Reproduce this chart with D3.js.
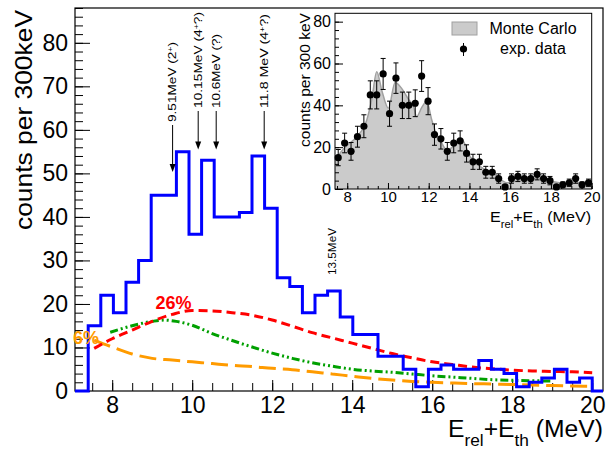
<!DOCTYPE html>
<html>
<head>
<meta charset="utf-8">
<script src="https://cdn.jsdelivr.net/npm/d3@7"></script>
<style>
  body { margin: 0; background: #fff; }
  svg { display: block; }
  text { font-family: "Liberation Sans", Arial, Helvetica, sans-serif; fill: #000; }
</style>
</head>
<body>
<svg id="chart" width="606" height="450"></svg>
<script>
// ---- data -------------------------------------------------------------
// measured spectrum, 40 bins between 7.4 and 20.0 MeV
const binLow = 7.4;
const binHigh = 20.0;
const counts = [15, 22, 18, 25, 30, 45, 45, 55, 36, 53, 40, 40, 41, 54, 42, 26, 24, 18, 22, 23,
                17, 13, 13, 8, 8, 5, 1, 5, 6, 5, 5, 7, 5, 4, 1, 2, 3, 5, 2, 3];

// background components (26 % red, green, 6 % orange)
const redEnergy = [7.55, 8.0, 8.5, 9.0, 9.5, 10.0, 10.5, 11.0, 11.5, 12.0, 12.5, 13.0, 13.5, 14.0,
                   14.5, 15.0, 15.5, 16.0, 16.5, 17.0, 17.5, 18.0, 18.5, 19.0, 19.5, 20.0];
const redCounts = [9.8, 12.0, 14.0, 16.0, 17.6, 18.5, 18.4, 18.0, 17.4, 16.3, 14.9, 13.4, 12.2, 11.0,
                   9.8, 8.6, 7.6, 6.7, 6.1, 5.5, 5.1, 4.8, 4.6, 4.5, 4.4, 4.2];
const greenEnergy = [7.95, 8.5, 9.0, 9.3, 9.6, 10.0, 10.5, 11.0, 11.5, 12.0, 12.5, 13.0, 13.5, 14.0,
                     14.5, 15.0, 15.5, 16.0, 16.5, 17.0, 17.5, 18.0, 18.5, 19.0];
const greenCounts = [13.5, 15.0, 16.0, 16.3, 16.0, 15.1, 13.2, 11.6, 10.1, 8.7, 7.5, 6.5, 5.7, 5.0,
                     4.6, 4.3, 3.9, 3.5, 3.2, 2.9, 2.6, 2.45, 2.35, 2.3];
const orangeEnergy = [7.55, 8.0, 8.5, 9.0, 9.5, 10.0, 10.5, 11.0, 11.5, 12.0, 12.5, 13.0, 13.5, 14.0,
                      14.5, 15.0, 15.5, 16.0, 16.5, 17.0, 17.5, 18.0, 18.5, 19.0, 19.5, 20.0];
const orangeCounts = [11.7, 10.1, 8.5, 7.5, 7.1, 6.7, 6.3, 5.9, 5.6, 5.2, 4.9, 4.4, 3.9, 3.4,
                      2.9, 2.5, 2.2, 2.0, 1.85, 1.7, 1.6, 1.5, 1.35, 1.25, 1.15, 1.1];

// Monte Carlo simulation shown in the inset
const mcEnergy = [7.4, 7.89, 8.47, 8.96, 9.2, 9.45, 9.7, 10.02, 10.35, 10.68, 11.0, 11.25, 11.41,
                  11.66, 11.9, 12.15, 12.31, 12.56, 12.89, 13.21, 13.63, 14.03, 14.53, 15.18,
                  15.84, 16.49, 17.47, 18.13, 18.79, 19.45, 20.0];
const mcCounts = [14, 20, 25, 33, 42.6, 56, 47, 38.6, 50.9, 48, 43, 39.4, 34.6,
                  39, 41.8, 33, 28, 23.4, 18.7, 20.2, 23.4, 15.5, 10.7, 7.5,
                  3, 4.3, 5.1, 3.5, 2.7, 3, 2.7];

// states marked with arrows
const stateEnergy = [9.51, 10.15, 10.6, 11.8];
const stateName = ["9.51MeV", "10.15MeV", "10.6MeV", "11.8 MeV"];
const stateSpin = ["(2", "(4", "(?)", "(4"];
const stateSup = ["+", "+", "", "+"];
const stateTail = [")", "?)", "", "?)"];

const mainXTicks = [8, 10, 12, 14, 16, 18, 20];
const mainYTicks = [0, 10, 20, 30, 40, 50, 60, 70, 80];
const insetXTicks = [8, 10, 12, 14, 16, 18, 20];
const insetYTicks = [0, 20, 40, 60, 80];

// ---- main frame --------------------------------------------------------
const svg = d3.select("#chart");
const F = { l: 75, r: 603, t: 8, b: 391 };
const x = d3.scaleLinear().domain([7.07, 20.27]).range([F.l, F.r]);
const y = d3.scaleLinear().domain([0, 88]).range([F.b, F.t]);

svg.append("defs").append("clipPath").attr("id", "plotClip")
  .append("rect").attr("x", F.l).attr("y", F.t).attr("width", F.r - F.l).attr("height", F.b - F.t);

// minor + major ticks, pointing into the frame
const gy = svg.append("g").attr("transform", `translate(${F.l},0)`);
gy.call(d3.axisLeft(y).tickValues(d3.range(0, 89, 2)).tickSize(-8).tickFormat(""));
gy.call(g => g.select(".domain").remove());
const gyMaj = svg.append("g").attr("transform", `translate(${F.l},0)`)
  .call(d3.axisLeft(y).tickValues(mainYTicks).tickSize(-15).tickPadding(7).tickFormat(d3.format("d")));
gyMaj.select(".domain").remove();
gyMaj.selectAll("text").attr("font-size", 23).attr("font-family", null);

const gx = svg.append("g").attr("transform", `translate(0,${F.b})`);
gx.call(d3.axisBottom(x).tickValues(d3.range(7.5, 20.01, 0.5)).tickSize(-8).tickFormat(""));
gx.call(g => g.select(".domain").remove());
const gxMaj = svg.append("g").attr("transform", `translate(0,${F.b})`)
  .call(d3.axisBottom(x).tickValues(mainXTicks).tickSize(-11).tickPadding(6).tickFormat(d3.format("d")));
gxMaj.select(".domain").remove();
gxMaj.selectAll("text").attr("font-size", 23).attr("font-family", null);
svg.selectAll(".tick line").attr("stroke", "#000").attr("stroke-width", 1);

// frame
svg.append("rect").attr("x", F.l).attr("y", F.t).attr("width", F.r - F.l).attr("height", F.b - F.t)
  .attr("fill", "none").attr("stroke", "#000").attr("stroke-width", 1.2);

// ---- background curves -------------------------------------------------
const plot = svg.append("g").attr("clip-path", "url(#plotClip)");
function curve(es, vs, color, dash) {
  const pts = es.map((e, i) => [e, vs[i]]);
  plot.append("path")
    .attr("d", d3.line().x(d => x(d[0])).y(d => y(d[1])).curve(d3.curveMonotoneX)(pts))
    .attr("fill", "none").attr("stroke", color).attr("stroke-width", 3)
    .attr("stroke-dasharray", dash);
}
curve(orangeEnergy, orangeCounts, "#ff9b00", "17,7");
curve(greenEnergy, greenCounts, "#00a000", "8,3,2,3,2,3");
curve(redEnergy, redCounts, "#ff0000", "9,5");

// ---- measured histogram ------------------------------------------------
const bw = (binHigh - binLow) / counts.length;
const histPts = [[x.domain()[0], 0], [binLow, 0]];
counts.forEach((c, i) => {
  histPts.push([binLow + i * bw, c], [binLow + (i + 1) * bw, c]);
});
histPts.push([binHigh, 0], [x.domain()[1], 0]);
svg.append("path")
  .attr("d", d3.line().x(d => x(d[0])).y(d => y(d[1])).curve(d3.curveLinear)(histPts))
  .attr("fill", "none").attr("stroke", "#0000ff").attr("stroke-width", 3)
  .attr("stroke-linejoin", "miter");

// ---- percentages -------------------------------------------------------
svg.append("text").attr("x", 173.5).attr("y", 309).attr("text-anchor", "middle")
  .attr("font-size", 18).attr("font-weight", "bold").style("fill", "#ff0000").text("26%");
svg.append("text").attr("x", 73).attr("y", 344)
  .attr("font-size", 18).attr("font-weight", "bold").style("fill", "#ff9b00").text("6%");

// ---- state arrows ------------------------------------------------------
const arrowTip = [50.3, 55.5, 55.5, 55.5];
const arrowStart = [122, 108, 108, 108];
const labelLen = [80, 96, 74, 94];
stateEnergy.forEach((e, i) => {
  const X = x(e);
  const tipY = y(arrowTip[i]);
  svg.append("line").attr("x1", X).attr("x2", X).attr("y1", arrowStart[i] + 3).attr("y2", tipY - 6)
    .attr("stroke", "#000").attr("stroke-width", 1);
  svg.append("path").attr("d", `M${X - 3},${tipY - 8} L${X + 3},${tipY - 8} L${X},${tipY} Z`).attr("fill", "#000");
  const t = svg.append("text")
    .attr("transform", `translate(${X},${arrowStart[i]}) rotate(-90)`)
    .attr("dy", "0.35em").attr("font-size", 11)
    .attr("textLength", labelLen[i]).attr("lengthAdjust", "spacingAndGlyphs");
  t.append("tspan").text(stateName[i] + " " + stateSpin[i]);
  if (stateSup[i]) t.append("tspan").attr("baseline-shift", "super").attr("font-size", 7).text(stateSup[i]);
  if (stateTail[i]) t.append("tspan").text(stateTail[i]);
});
svg.append("text").attr("transform", `translate(${x(13.5)},275) rotate(-90)`)
  .attr("dy", "0.35em").attr("font-size", 11)
  .attr("textLength", 47).attr("lengthAdjust", "spacingAndGlyphs").text("13.5MeV");

// ---- axis titles -------------------------------------------------------
svg.append("text").attr("transform", "translate(32,120) rotate(-90)").attr("text-anchor", "middle")
  .attr("font-size", 24).attr("textLength", 220).attr("lengthAdjust", "spacingAndGlyphs")
  .text("counts per 300keV");
function energyTitle(sel, size) {
  sel.append("tspan").text("E");
  sel.append("tspan").attr("baseline-shift", "sub").attr("font-size", size * 0.7).text("rel");
  sel.append("tspan").text("+E");
  sel.append("tspan").attr("baseline-shift", "sub").attr("font-size", size * 0.7).text("th");
  sel.append("tspan").text(" (MeV)");
}
energyTitle(svg.append("text").attr("x", 603).attr("y", 437).attr("text-anchor", "end")
  .attr("font-size", 23).attr("textLength", 155).attr("lengthAdjust", "spacingAndGlyphs"), 23);

// ---- inset -------------------------------------------------------------
const I = { l: 335, r: 591.7, t: 13.3, b: 189 };
const xi = d3.scaleLinear().domain([7.4, 20.0]).range([I.l, I.r]);
const yi = d3.scaleLinear().domain([0, 84]).range([I.b, I.t]);
const inset = svg.append("g");

const mcPts = mcEnergy.map((e, i) => [e, mcCounts[i]]);
inset.append("path")
  .attr("d", d3.area().x(d => xi(d[0])).y0(yi(0)).y1(d => yi(d[1])).curve(d3.curveMonotoneX)(mcPts))
  .attr("fill", "#cbcbcb");
inset.append("path")
  .attr("d", d3.line().x(d => xi(d[0])).y(d => yi(d[1])).curve(d3.curveMonotoneX)(mcPts))
  .attr("fill", "none").attr("stroke", "#a0a0a0").attr("stroke-width", 1.5);

const iyMin = inset.append("g").attr("transform", `translate(${I.l},0)`)
  .call(d3.axisLeft(yi).tickValues(d3.range(0, 84, 4)).tickSize(-4).tickFormat(""));
iyMin.select(".domain").remove();
const iyMaj = inset.append("g").attr("transform", `translate(${I.l},0)`)
  .call(d3.axisLeft(yi).tickValues(insetYTicks).tickSize(-8).tickPadding(4).tickFormat(d3.format("d")));
iyMaj.select(".domain").remove();
iyMaj.selectAll("text").attr("font-size", 16).attr("font-family", null);
const ixMin = inset.append("g").attr("transform", `translate(0,${I.b})`)
  .call(d3.axisBottom(xi).tickValues(d3.range(7.5, 20.01, 0.5)).tickSize(-3).tickFormat(""));
ixMin.select(".domain").remove();
const ixMaj = inset.append("g").attr("transform", `translate(0,${I.b})`)
  .call(d3.axisBottom(xi).tickValues(insetXTicks).tickSize(-6).tickPadding(2).tickFormat(d3.format("d")));
ixMaj.select(".domain").remove();
ixMaj.selectAll("text").attr("font-size", 15).attr("font-family", null);
inset.selectAll(".tick line").attr("stroke", "#000").attr("stroke-width", 1);

inset.append("rect").attr("x", I.l).attr("y", I.t).attr("width", I.r - I.l).attr("height", I.b - I.t)
  .attr("fill", "none").attr("stroke", "#000").attr("stroke-width", 1);

// data points with statistical errors
const pts = inset.append("g");
counts.forEach((c, i) => {
  const X = xi(binLow + (i + 0.5) * bw);
  const err = Math.sqrt(c);
  const y1 = yi(c + err), y2 = yi(Math.max(0, c - err));
  pts.append("line").attr("x1", X).attr("x2", X).attr("y1", y1).attr("y2", y2).attr("stroke", "#000").attr("stroke-width", 1);
  pts.append("line").attr("x1", X - 2.5).attr("x2", X + 2.5).attr("y1", y1).attr("y2", y1).attr("stroke", "#000");
  pts.append("line").attr("x1", X - 2.5).attr("x2", X + 2.5).attr("y1", y2).attr("y2", y2).attr("stroke", "#000");
  pts.append("circle").attr("cx", X).attr("cy", yi(c)).attr("r", 3.6).attr("fill", "#000");
});

inset.append("text").attr("transform", "translate(310,80) rotate(-90)").attr("text-anchor", "middle")
  .attr("font-size", 15).attr("textLength", 134).attr("lengthAdjust", "spacingAndGlyphs")
  .text("counts per 300 keV");
energyTitle(inset.append("text").attr("x", 591).attr("y", 222).attr("text-anchor", "end")
  .attr("font-size", 14.5).attr("textLength", 101).attr("lengthAdjust", "spacingAndGlyphs"), 14.5);

// legend
inset.append("rect").attr("x", 452).attr("y", 22).attr("width", 25).attr("height", 13)
  .attr("fill", "#cbcbcb").attr("stroke", "#a0a0a0").attr("stroke-width", 1);
inset.append("text").attr("x", 533).attr("y", 34).attr("text-anchor", "middle").attr("font-size", 16).text("Monte Carlo");
inset.append("line").attr("x1", 463.5).attr("x2", 463.5).attr("y1", 43).attr("y2", 56).attr("stroke", "#000");
inset.append("circle").attr("cx", 463.5).attr("cy", 49).attr("r", 3.6).attr("fill", "#000");
inset.append("text").attr("x", 533).attr("y", 54).attr("text-anchor", "middle").attr("font-size", 16).text("exp. data");
</script>
</body>
</html>
